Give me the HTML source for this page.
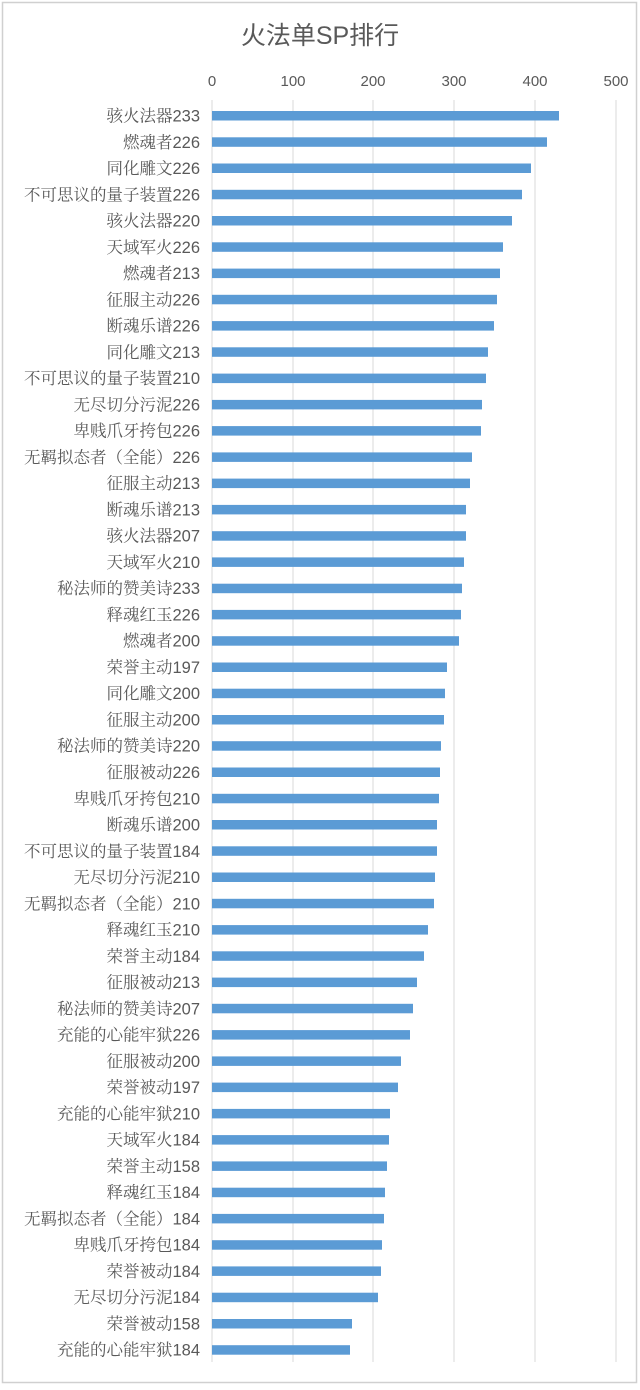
<!DOCTYPE html>
<html><head><meta charset="utf-8"><style>
body{margin:0;background:#fff}
svg text{font-family:"Liberation Sans","Noto Sans CJK SC",sans-serif;fill:#595959}
.b{fill:#5b9bd5}
svg text.l{font-size:16.5px;text-anchor:end;font-family:"Liberation Sans","Noto Serif CJK SC",serif}
</style></head><body>
<svg width="640" height="1385" xmlns="http://www.w3.org/2000/svg">
<rect x="0" y="0" width="640" height="1385" fill="#fff"/>
<rect x="2.5" y="2.5" width="634" height="1380" fill="none" stroke="#d0d0d0" stroke-width="1.5"/>
<text x="320" y="44" font-size="25" text-anchor="middle">火法单SP排行</text>
<g stroke="#d9d9d9" stroke-width="1">
<line x1="212" y1="100" x2="212" y2="1362"/><line x1="293" y1="100" x2="293" y2="1362"/>
<line x1="373" y1="100" x2="373" y2="1362"/><line x1="454" y1="100" x2="454" y2="1362"/>
<line x1="535" y1="100" x2="535" y2="1362"/><line x1="616" y1="100" x2="616" y2="1362"/>
</g>
<g font-size="15" text-anchor="middle">
<text x="212" y="86">0</text><text x="293" y="86">100</text><text x="373" y="86">200</text>
<text x="454" y="86">300</text><text x="535" y="86">400</text><text x="616" y="86">500</text>
</g>
<g>
<rect class="b" x="212" y="111.0" width="347" height="9.5"/><text class="l" x="200" y="121.5">骇火法器233</text>
<rect class="b" x="212" y="137.3" width="335" height="9.5"/><text class="l" x="200" y="147.8">燃魂者226</text>
<rect class="b" x="212" y="163.5" width="319" height="9.5"/><text class="l" x="200" y="174.0">同化雕文226</text>
<rect class="b" x="212" y="189.8" width="310" height="9.5"/><text class="l" x="200" y="200.3">不可思议的量子装置226</text>
<rect class="b" x="212" y="216.0" width="300" height="9.5"/><text class="l" x="200" y="226.5">骇火法器220</text>
<rect class="b" x="212" y="242.3" width="291" height="9.5"/><text class="l" x="200" y="252.8">天域军火226</text>
<rect class="b" x="212" y="268.6" width="288" height="9.5"/><text class="l" x="200" y="279.1">燃魂者213</text>
<rect class="b" x="212" y="294.8" width="285" height="9.5"/><text class="l" x="200" y="305.3">征服主动226</text>
<rect class="b" x="212" y="321.1" width="282" height="9.5"/><text class="l" x="200" y="331.6">断魂乐谱226</text>
<rect class="b" x="212" y="347.3" width="276" height="9.5"/><text class="l" x="200" y="357.8">同化雕文213</text>
<rect class="b" x="212" y="373.6" width="274" height="9.5"/><text class="l" x="200" y="384.1">不可思议的量子装置210</text>
<rect class="b" x="212" y="399.9" width="270" height="9.5"/><text class="l" x="200" y="410.4">无尽切分污泥226</text>
<rect class="b" x="212" y="426.1" width="269" height="9.5"/><text class="l" x="200" y="436.6">卑贱爪牙挎包226</text>
<rect class="b" x="212" y="452.4" width="260" height="9.5"/><text class="l" x="200" y="462.9">无羁拟态者（全能）226</text>
<rect class="b" x="212" y="478.6" width="258" height="9.5"/><text class="l" x="200" y="489.1">征服主动213</text>
<rect class="b" x="212" y="504.9" width="254" height="9.5"/><text class="l" x="200" y="515.4">断魂乐谱213</text>
<rect class="b" x="212" y="531.2" width="254" height="9.5"/><text class="l" x="200" y="541.7">骇火法器207</text>
<rect class="b" x="212" y="557.4" width="252" height="9.5"/><text class="l" x="200" y="567.9">天域军火210</text>
<rect class="b" x="212" y="583.7" width="250" height="9.5"/><text class="l" x="200" y="594.2">秘法师的赞美诗233</text>
<rect class="b" x="212" y="609.9" width="249" height="9.5"/><text class="l" x="200" y="620.4">释魂红玉226</text>
<rect class="b" x="212" y="636.2" width="247" height="9.5"/><text class="l" x="200" y="646.7">燃魂者200</text>
<rect class="b" x="212" y="662.5" width="235" height="9.5"/><text class="l" x="200" y="673.0">荣誉主动197</text>
<rect class="b" x="212" y="688.7" width="233" height="9.5"/><text class="l" x="200" y="699.2">同化雕文200</text>
<rect class="b" x="212" y="715.0" width="232" height="9.5"/><text class="l" x="200" y="725.5">征服主动200</text>
<rect class="b" x="212" y="741.2" width="229" height="9.5"/><text class="l" x="200" y="751.7">秘法师的赞美诗220</text>
<rect class="b" x="212" y="767.5" width="228" height="9.5"/><text class="l" x="200" y="778.0">征服被动226</text>
<rect class="b" x="212" y="793.8" width="227" height="9.5"/><text class="l" x="200" y="804.3">卑贱爪牙挎包210</text>
<rect class="b" x="212" y="820.0" width="225" height="9.5"/><text class="l" x="200" y="830.5">断魂乐谱200</text>
<rect class="b" x="212" y="846.3" width="225" height="9.5"/><text class="l" x="200" y="856.8">不可思议的量子装置184</text>
<rect class="b" x="212" y="872.5" width="223" height="9.5"/><text class="l" x="200" y="883.0">无尽切分污泥210</text>
<rect class="b" x="212" y="898.8" width="222" height="9.5"/><text class="l" x="200" y="909.3">无羁拟态者（全能）210</text>
<rect class="b" x="212" y="925.1" width="216" height="9.5"/><text class="l" x="200" y="935.6">释魂红玉210</text>
<rect class="b" x="212" y="951.3" width="212" height="9.5"/><text class="l" x="200" y="961.8">荣誉主动184</text>
<rect class="b" x="212" y="977.6" width="205" height="9.5"/><text class="l" x="200" y="988.1">征服被动213</text>
<rect class="b" x="212" y="1003.8" width="201" height="9.5"/><text class="l" x="200" y="1014.3">秘法师的赞美诗207</text>
<rect class="b" x="212" y="1030.1" width="198" height="9.5"/><text class="l" x="200" y="1040.6">充能的心能牢狱226</text>
<rect class="b" x="212" y="1056.4" width="189" height="9.5"/><text class="l" x="200" y="1066.9">征服被动200</text>
<rect class="b" x="212" y="1082.6" width="186" height="9.5"/><text class="l" x="200" y="1093.1">荣誉被动197</text>
<rect class="b" x="212" y="1108.9" width="178" height="9.5"/><text class="l" x="200" y="1119.4">充能的心能牢狱210</text>
<rect class="b" x="212" y="1135.1" width="177" height="9.5"/><text class="l" x="200" y="1145.6">天域军火184</text>
<rect class="b" x="212" y="1161.4" width="175" height="9.5"/><text class="l" x="200" y="1171.9">荣誉主动158</text>
<rect class="b" x="212" y="1187.7" width="173" height="9.5"/><text class="l" x="200" y="1198.2">释魂红玉184</text>
<rect class="b" x="212" y="1213.9" width="172" height="9.5"/><text class="l" x="200" y="1224.4">无羁拟态者（全能）184</text>
<rect class="b" x="212" y="1240.2" width="170" height="9.5"/><text class="l" x="200" y="1250.7">卑贱爪牙挎包184</text>
<rect class="b" x="212" y="1266.4" width="169" height="9.5"/><text class="l" x="200" y="1276.9">荣誉被动184</text>
<rect class="b" x="212" y="1292.7" width="166" height="9.5"/><text class="l" x="200" y="1303.2">无尽切分污泥184</text>
<rect class="b" x="212" y="1319.0" width="140" height="9.5"/><text class="l" x="200" y="1329.5">荣誉被动158</text>
<rect class="b" x="212" y="1345.2" width="138" height="9.5"/><text class="l" x="200" y="1355.7">充能的心能牢狱184</text>
</g>
</svg>
</body></html>
